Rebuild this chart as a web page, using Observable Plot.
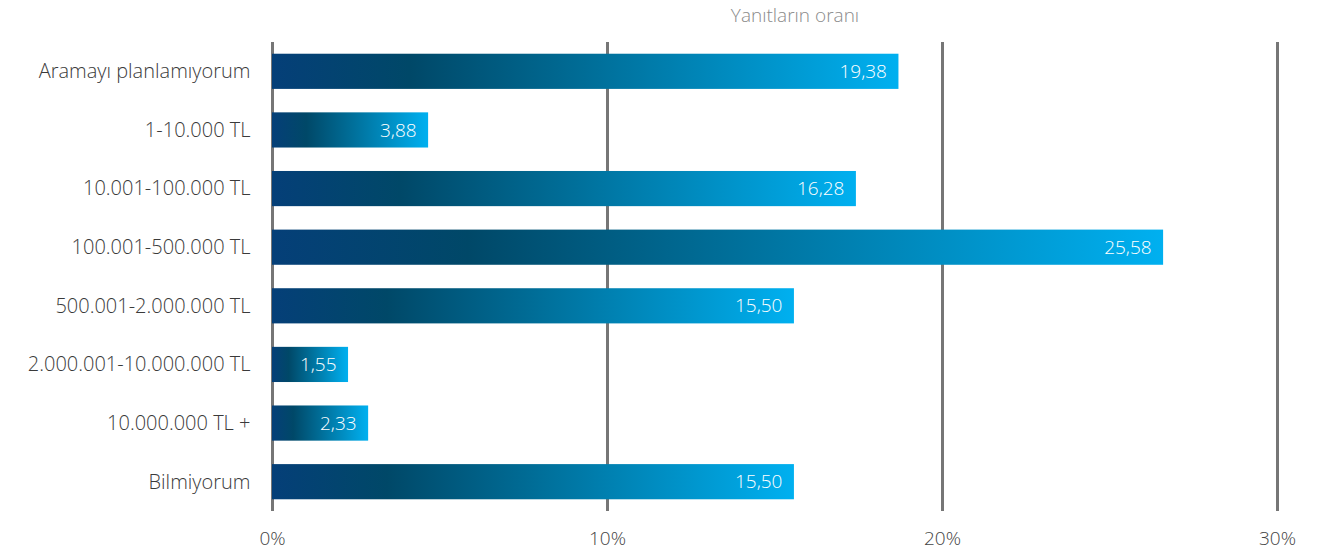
<!DOCTYPE html>
<html>
<head>
<meta charset="utf-8">
<script src="https://cdn.jsdelivr.net/npm/d3@7"></script>
<script src="https://cdn.jsdelivr.net/npm/@observablehq/plot@0.6"></script>
<style>
  html, body { margin: 0; padding: 0; background: #fff; }
  body { width: 1319px; height: 558px; overflow: hidden; font-family: "Open Sans", sans-serif; font-weight: 300; }
  #title { height: 30px; box-sizing: border-box; padding-left: 271px; text-align: center; font-size: 19px; color: #8a8a8a; line-height: 30px; }
  svg text { font-weight: 300; }
</style>
</head>
<body>
<div id="title">Yanıtların oranı</div>
<div id="chart"></div>
<script>
const categories = ["Aramayı planlamıyorum", "1-10.000 TL", "10.001-100.000 TL", "100.001-500.000 TL", "500.001-2.000.000 TL", "2.000.001-10.000.000 TL", "10.000.000 TL +", "Bilmiyorum"];
// values printed on the bars
const values = [19.38, 3.88, 16.28, 25.58, 15.50, 1.55, 2.33, 15.50];
// bar lengths as drawn in the picture (percent)
const barLengths = [18.7, 4.66, 17.43, 26.6, 15.58, 2.27, 2.87, 15.58];
const xTicks = [0, 10, 20, 30];

const data = categories.map((c, i) => ({category: c, value: values[i], length: barLengths[i], label: values[i].toFixed(2).replace(".", ",")}));

const gradientDefs = () => {
  const defs = d3.create("svg:defs");
  const g = defs.append("linearGradient").attr("id", "barGrad").attr("x1", 0).attr("x2", 1).attr("y1", 0).attr("y2", 0);
  [[0, "#053f78"], [0.22, "#004868"], [0.5, "#006d97"], [1, "#00b0f0"]].forEach(([o, c]) =>
    g.append("stop").attr("offset", o).attr("stop-color", c));
  return defs.node();
};

const chart = Plot.plot({
  width: 1319,
  height: 528,
  marginLeft: 272,
  marginRight: 42,
  marginTop: 12,
  marginBottom: 47,
  style: {fontFamily: "'Open Sans', sans-serif", fontSize: "19px", color: "#444"},
  x: {domain: [0, 30], ticks: xTicks, tickFormat: d => d + "%", tickSize: 0, label: null},
  y: {domain: categories, paddingInner: 0.4, paddingOuter: 0.2, round: false, tickSize: 0, label: null},
  marks: [
    gradientDefs,
    Plot.ruleX(xTicks, {stroke: "#767676", strokeWidth: 3}),
    Plot.barX(data, {x: "length", y: "category", fill: "url(#barGrad)"}),
    Plot.text(data, {x: "length", y: "category", text: "label", textAnchor: "end", dx: -12, fill: "white", fontSize: 19}),
    Plot.axisY({tickSize: 0, tickPadding: 22, fontSize: 20, color: "#3a3a3a"}),
    Plot.axisX({ticks: xTicks, tickFormat: d => d + "%", tickSize: 0, tickPadding: 20, fontSize: 19, color: "#444"})
  ]
});
document.getElementById("chart").appendChild(chart);
</script>
</body>
</html>
